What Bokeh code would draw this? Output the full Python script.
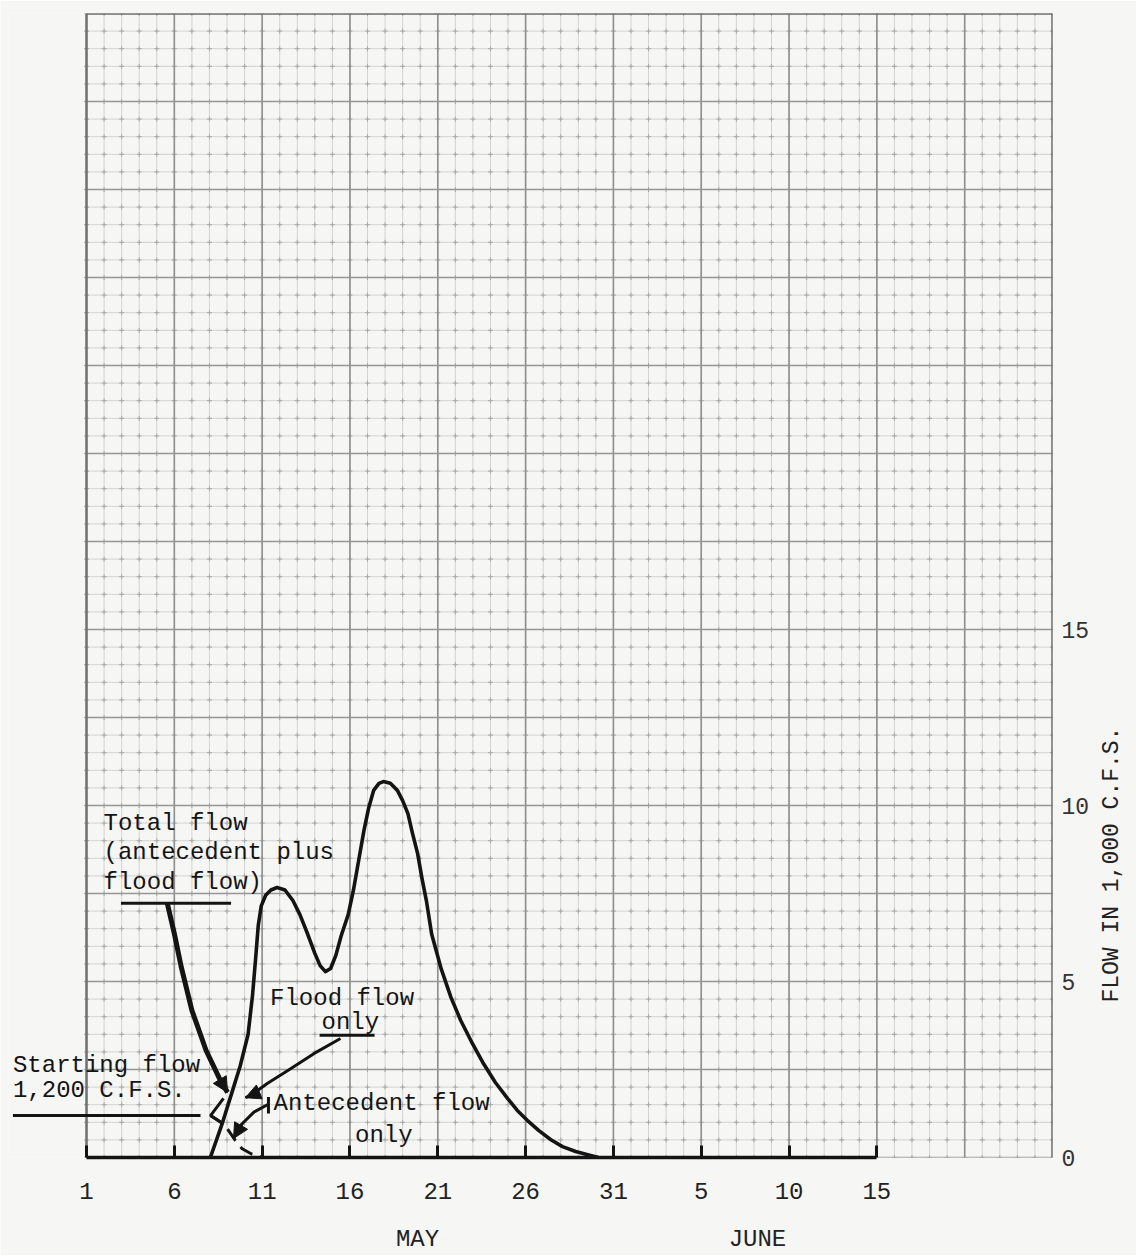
import math
import numpy as np
from bokeh.plotting import figure
from bokeh.models import Range1d, LinearAxis, FixedTicker, Label, Arrow, NormalHead
from bokeh.embed import file_html
from bokeh.resources import INLINE

# ---------------- data ----------------
# day counted from May 1 (June 5 = 36 ...), flow in 1,000 c.f.s.
total_day = [8.05, 8.75, 9.25, 9.75, 10.2, 10.45, 10.62, 10.78, 10.95, 11.2, 11.5, 11.85,
             12.3, 12.75, 13.15, 13.55, 14.0, 14.3, 14.6, 14.9, 15.2, 15.5, 15.9, 16.2,
             16.5, 16.8, 17.05, 17.35, 17.65, 17.9, 18.3, 18.7, 19.0, 19.3, 19.55, 19.85,
             20.1, 20.35, 20.65, 21.2, 21.75, 22.3, 22.97, 23.6, 24.28, 24.97, 25.54, 26.11,
             26.74, 27.42, 28.1, 28.85, 29.7, 30.15]
total_flow = [0.0, 1.0, 1.8, 2.6, 3.5, 4.6, 5.6, 6.6, 7.15, 7.45, 7.6, 7.67,
              7.6, 7.3, 6.9, 6.4, 5.8, 5.45, 5.28, 5.37, 5.75, 6.3, 6.9, 7.6,
              8.45, 9.3, 9.9, 10.43, 10.63, 10.68, 10.63, 10.43, 10.14, 9.77, 9.23, 8.64,
              7.93, 7.3, 6.35, 5.35, 4.55, 3.9, 3.24, 2.67, 2.13, 1.68, 1.33, 1.05,
              0.77, 0.51, 0.31, 0.17, 0.06, 0.0]

antecedent_day = [8.06, 8.74, 9.01, 9.48, 9.86, 10.4, 11.09]
antecedent_flow = [1.19, 0.97, 0.82, 0.48, 0.25, 0.1, 0.0]

tick_days = [1, 6, 11, 16, 21, 26, 31, 36, 41, 46]
tick_labels = ["1", "6", "11", "16", "21", "26", "31", "5", "10", "15"]
month_days = [19.85, 39.2]
month_labels = ["MAY", "JUNE"]
flow_ticks = [0, 5, 10, 15]
flow_title_pos = 4.4
flow_title = "FLOW IN 1,000 C.F.S."

# graph paper extent
DAY_MIN, DAY_MAX = 1, 56
FLOW_MIN, FLOW_MAX = 0, 32.5

# annotation leaders (day, flow)
total_arrow_day = [5.60, 6.00, 6.40, 7.00, 7.81, 8.62, 9.03]
total_arrow_flow = [7.22, 6.36, 5.40, 4.18, 3.04, 2.19, 1.85]
flood_arrow_day = [15.46, 13.94, 12.62, 11.29, 10.34, 10.05]
flood_arrow_flow = [3.38, 2.95, 2.52, 2.10, 1.76, 1.70]
ante_arrow_day = [11.38, 10.53, 9.86, 9.37]
ante_arrow_flow = [1.52, 1.29, 0.96, 0.54]
chevron_day = [8.80, 8.06, 8.74]
chevron_flow = [1.68, 1.19, 0.97]

PAPER = "#f6f6f4"
INK = "#141414"
FONT = "Liberation Mono"

p = figure(frame_width=1044, frame_height=1144,
           x_range=Range1d(-3.442, DAY_MAX), y_range=Range1d(FLOW_MIN, FLOW_MAX),
           x_axis_location=None, y_axis_location=None,
           output_backend="svg", toolbar_location=None,
           min_border_left=8, min_border_top=13, min_border_right=60, min_border_bottom=90,
           background_fill_color=PAPER, border_fill_color=PAPER)
p.outline_line_color = None
p.xgrid.visible = False
p.ygrid.visible = False

# ---------------- graph paper ----------------
gx = np.arange(DAY_MIN, DAY_MAX + 1, 1.0)
gy = np.arange(FLOW_MIN, FLOW_MAX + 0.25, 0.5)
gx_major = gx[(gx - DAY_MIN) % 5 == 0]
gy_major = gy[np.isclose((gy / 2.5) % 1, 0) | np.isclose((gy / 2.5) % 1, 1)]

p.segment(x0=gx, y0=FLOW_MIN, x1=gx, y1=FLOW_MAX, line_color="#d3d3d3", line_width=1)
p.segment(x0=DAY_MIN, y0=gy, x1=DAY_MAX, y1=gy, line_color="#d3d3d3", line_width=1)
cx, cy = np.meshgrid(gx, gy)
p.scatter(cx.ravel(), cy.ravel(), marker="cross", size=5, line_color="#a8a8a8", line_width=1)
p.segment(x0=gx_major, y0=FLOW_MIN, x1=gx_major, y1=FLOW_MAX, line_color="#8e8e8e", line_width=1.6)
p.segment(x0=DAY_MIN, y0=gy_major, x1=DAY_MAX, y1=gy_major, line_color="#969696", line_width=1.4)
p.multi_line(xs=[[DAY_MIN, DAY_MIN], [DAY_MAX, DAY_MAX], [DAY_MIN, DAY_MAX]],
             ys=[[FLOW_MIN, FLOW_MAX], [FLOW_MIN, FLOW_MAX], [FLOW_MAX, FLOW_MAX]],
             line_color="#707070", line_width=2.4)

# ---------------- curves ----------------
p.line(total_day, total_flow, line_color=INK, line_width=3.6, line_join="round")
p.line(antecedent_day, antecedent_flow, line_color=INK, line_width=3, line_dash="14 8")
p.line(chevron_day, chevron_flow, line_color=INK, line_width=3)

# ---------------- annotations ----------------
p.line(total_arrow_day, total_arrow_flow, line_color=INK, line_width=5, line_join="round")
p.line(flood_arrow_day, flood_arrow_flow, line_color=INK, line_width=3, line_join="round")
p.line(ante_arrow_day, ante_arrow_flow, line_color=INK, line_width=3, line_join="round")
for xs, ys, w in [(total_arrow_day, total_arrow_flow, 4),
                  (flood_arrow_day, flood_arrow_flow, 3),
                  (ante_arrow_day, ante_arrow_flow, 3)]:
    p.add_layout(Arrow(end=NormalHead(size=15, fill_color=INK, line_color=INK),
                       x_start=xs[-2], y_start=ys[-2], x_end=xs[-1], y_end=ys[-1],
                       line_color=INK, line_width=w))

# underlines
p.segment(x0=[2.96, 14.27, -3.19], y0=[7.22, 3.47, 1.19],
          x1=[9.23, 17.40, 7.49], y1=[7.22, 3.47, 1.19], line_color=INK, line_width=3)
p.segment(x0=[11.36], y0=[1.25], x1=[11.36], y1=[1.72], line_color=INK, line_width=3)

texts = [("Total flow", 1.97, 9.49), ("(antecedent plus", 1.97, 8.66), ("flood flow)", 1.97, 7.81),
         ("Flood flow", 11.45, 4.52), ("only", 14.38, 3.84),
         ("Starting flow", -3.19, 2.61), ("1,200 C.F.S.", -3.19, 1.90),
         ("Antecedent flow", 11.65, 1.53), ("only", 16.29, 0.63)]
for t, x, y in texts:
    p.add_layout(Label(x=x, y=y, text=t, text_font=FONT, text_font_size="24px",
                       text_color=INK, text_baseline="middle", text_align="left"))

# ---------------- axes ----------------
ax_days = LinearAxis(ticker=FixedTicker(ticks=tick_days),
                     major_label_overrides={d: s for d, s in zip(tick_days, tick_labels)},
                     bounds=(tick_days[0], tick_days[-1]))
ax_days.axis_line_width = 3.5
ax_days.axis_line_color = INK
ax_days.major_tick_in = 12
ax_days.major_tick_out = 0
ax_days.major_tick_line_width = 3
ax_days.major_tick_line_color = INK
ax_days.minor_tick_line_color = None
ax_days.major_label_text_font = FONT
ax_days.major_label_text_font_size = "24px"
ax_days.major_label_text_color = "#222222"
ax_days.major_label_standoff = 25
p.add_layout(ax_days, "below")

ax_month = LinearAxis(ticker=FixedTicker(ticks=month_days),
                      major_label_overrides={d: s for d, s in zip(month_days, month_labels)})
ax_month.axis_line_color = None
ax_month.major_tick_line_color = None
ax_month.minor_tick_line_color = None
ax_month.major_label_text_font = FONT
ax_month.major_label_text_font_size = "24px"
ax_month.major_label_text_color = "#222222"
ax_month.major_label_standoff = 18
p.add_layout(ax_month, "below")

ax_flow = LinearAxis(ticker=FixedTicker(ticks=flow_ticks))
ax_flow.axis_line_color = None
ax_flow.major_tick_line_color = None
ax_flow.minor_tick_line_color = None
ax_flow.major_label_text_font = FONT
ax_flow.major_label_text_font_size = "23px"
ax_flow.major_label_text_color = "#333333"
ax_flow.major_label_standoff = 3
p.add_layout(ax_flow, "right")

ax_title = LinearAxis(ticker=FixedTicker(ticks=[flow_title_pos]),
                      major_label_overrides={flow_title_pos: flow_title})
ax_title.axis_line_color = None
ax_title.major_tick_line_color = None
ax_title.minor_tick_line_color = None
ax_title.major_label_orientation = math.pi / 2
ax_title.major_label_text_font = FONT
ax_title.major_label_text_font_size = "23px"
ax_title.major_label_text_color = "#222222"
ax_title.major_label_standoff = 14
p.add_layout(ax_title, "right")

open("out.html", "w").write(file_html(p, INLINE))
